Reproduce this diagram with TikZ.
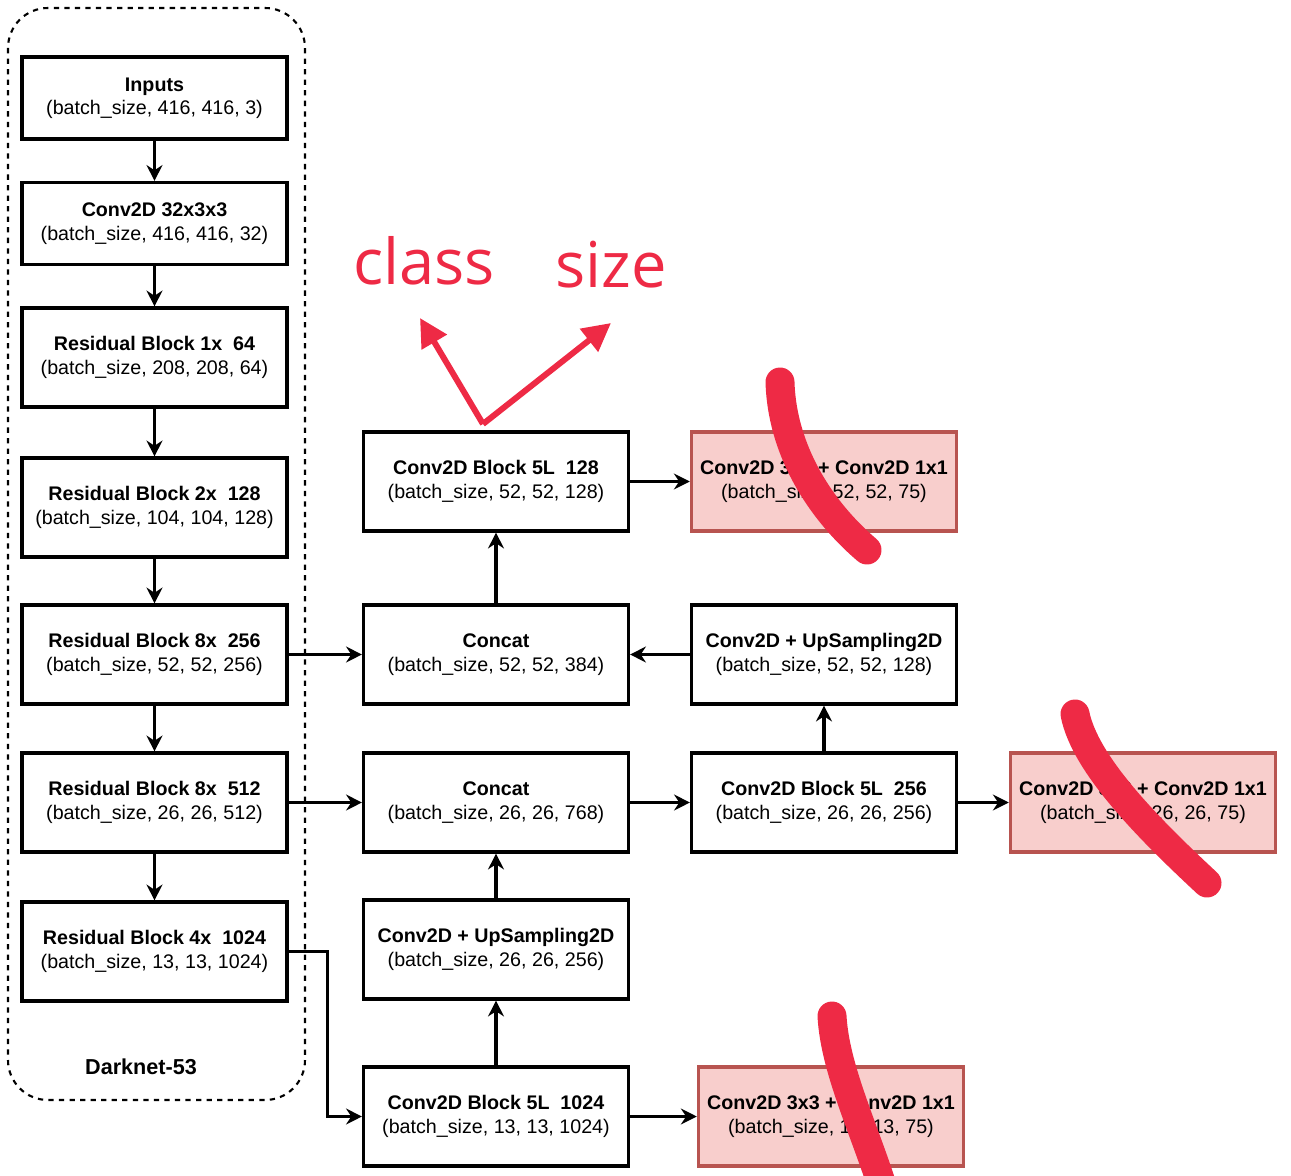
\documentclass[tikz,border=0pt]{standalone}
\usepackage{fontspec}
\setmainfont{Liberation Sans}
\newfontfamily\notefont{Open Sans}
\usetikzlibrary{arrows.meta,positioning}
\definecolor{markred}{HTML}{EE2A45}
\definecolor{boxfill}{HTML}{F8CECC}
\definecolor{boxline}{HTML}{B85450}
\tikzset{
layer/.style={draw, line width=1.8pt, minimum width=5.3cm, minimum height=1.98cm,
    inner sep=0pt, align=center, font=\fontsize{11.2}{13.3}\selectfont},
short layer/.style={layer, minimum height=1.64cm},
out layer/.style={layer, draw=boxline, fill=boxfill, line width=2pt},
arr/.style={-{Stealth[length=9pt,width=9pt]}, line width=1.8pt},
note arr/.style={-{Triangle[length=16pt,width=16pt]}, line width=3.4pt, markred},
scribble/.style={line width=16.5pt, line cap=round, markred},
note/.style={markred, font=\notefont\fontsize{36}{40}\selectfont, anchor=base},
}

\begin{document}
\begin{tikzpicture}[x=0.02cm, y=-0.02cm]
    \useasboundingbox (0,0) rectangle (1291,1176);

    % darknet-53 backbone
    \draw[dashed, line width=1.2pt, rounded corners=0.8cm] (8,8) rectangle (305,1100);
    \node[font=\fontsize{12.3}{14}\selectfont\bfseries] (darknet) at (141,1067) {Darknet-53};

    \node[short layer] (inputs) at (154.5,98) {\textbf{Inputs}\\(batch\_size, 416, 416, 3)};
    \node[short layer] (conv) at (154.5,223.5) {\textbf{Conv2D 32x3x3}\\(batch\_size, 416, 416, 32)};
    \node[layer] (res1) at (154.5,357.5) {\textbf{Residual Block 1x~~64}\\(batch\_size, 208, 208, 64)};
    \node[layer] (res2) at (154.5,507.5) {\textbf{Residual Block 2x~~128}\\(batch\_size, 104, 104, 128)};
    \node[layer] (res8a) at (154.5,654.5) {\textbf{Residual Block 8x~~256}\\(batch\_size, 52, 52, 256)};
    \node[layer] (res8b) at (154.5,802.5) {\textbf{Residual Block 8x~~512}\\(batch\_size, 26, 26, 512)};
    \node[layer] (res4) at (154.5,951.5) {\textbf{Residual Block 4x~~1024}\\(batch\_size, 13, 13, 1024)};

    \draw[arr] (inputs) -- (conv);
    \draw[arr] (conv) -- (res1);
    \draw[arr] (res1) -- (res2);
    \draw[arr] (res2) -- (res8a);
    \draw[arr] (res8a) -- (res8b);
    \draw[arr] (res8b) -- (res4);

    % detection heads
    \node[layer] (block128) at (496,481.5) {\textbf{Conv2D Block 5L~~128}\\(batch\_size, 52, 52, 128)};
    \node[layer] (cat384) at (496,654.5) {\textbf{Concat}\\(batch\_size, 52, 52, 384)};
    \node[layer] (cat768) at (496,802.5) {\textbf{Concat}\\(batch\_size, 26, 26, 768)};
    \node[layer] (up256) at (496,949.5) {\textbf{Conv2D + UpSampling2D}\\(batch\_size, 26, 26, 256)};
    \node[layer] (block1024) at (496,1116.5) {\textbf{Conv2D Block 5L~~1024}\\(batch\_size, 13, 13, 1024)};

    \node[out layer] (out52) at (824,481.5) {\textbf{Conv2D 3x3 + Conv2D 1x1}\\(batch\_size, 52, 52, 75)};
    \node[layer] (up128) at (824,654.5) {\textbf{Conv2D + UpSampling2D}\\(batch\_size, 52, 52, 128)};
    \node[layer] (block256) at (824,802.5) {\textbf{Conv2D Block 5L~~256}\\(batch\_size, 26, 26, 256)};
    \node[out layer] (out26) at (1143,802.5) {\textbf{Conv2D 3x3 + Conv2D 1x1}\\(batch\_size, 26, 26, 75)};
    \node[out layer] (out13) at (831,1116.5) {\textbf{Conv2D 3x3 + Conv2D 1x1}\\(batch\_size, 13, 13, 75)};

    \draw[arr] (res8a) -- (cat384);
    \draw[arr] (res8b) -- (cat768);
    \draw[arr] (res4.east) -- ++(39,0) |- (block1024.west);
    \draw[arr] (block1024) -- (up256);
    \draw[arr] (up256) -- (cat768);
    \draw[arr] (cat768) -- (block256);
    \draw[arr] (block256) -- (out26);
    \draw[arr] (block256) -- (up128);
    \draw[arr] (up128) -- (cat384);
    \draw[arr] (cat384) -- (block128);
    \draw[arr] (block128) -- (out52);
    \draw[arr] (block1024) -- (out13);

    % hand-drawn notes
    \coordinate (pick) at (483,424);
    \coordinate (classtip) at (420,318);
    \coordinate (sizetip) at (611,323);
    \draw[note arr] (pick) -- (classtip);
    \draw[note arr] (pick) -- (sizetip);
    \node[note] (class) at (424,284) {class};
    \node[note] (size) at (611,287) {size};

    \draw[scribble] (780,382) .. controls (782,450) and (820,510) .. (867,550);
    \draw[scribble] (1075,714) .. controls (1085,765) and (1150,830) .. (1207,883);
    \draw[scribble] (832,1016) .. controls (835,1070) and (865,1130) .. (885,1195);
\end{tikzpicture}
\end{document}
